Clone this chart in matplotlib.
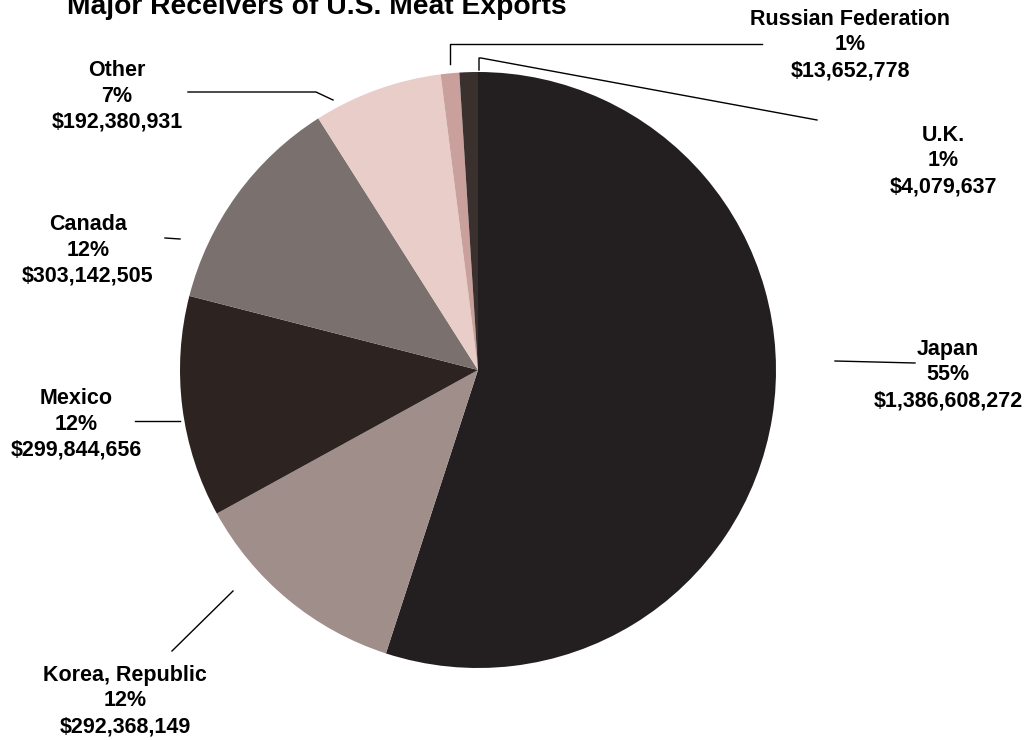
import matplotlib.pyplot as plt

plt.rcParams['font.family'] = ['Liberation Sans', 'DejaVu Sans']

# 数据：
countries = ['Japan', 'Korea, Republic', 'Mexico', 'Canada', 'Other',
             'Russian Federation', 'U.K.']
values = [1386608272, 292368149, 299844656, 303142505, 192380931,
          13652778, 4079637]
shares = [55, 12, 12, 12, 7, 1, 1]  # 图中显示的百分比（扇区按此绘制）
colors = ['#231f20', '#a08e8b', '#2d2422', '#7a706e', '#e8cdc8',
          '#c9a09b', '#3a302e']

# 标签位置（像素坐标，y 向下）：
label_pos = [(948, 375), (125, 701), (76, 424), (88, 250), (117, 96),
             (850, 45), (943, 161)]
leaders = [
    [(835, 361), (915, 363)],
    [(172, 651), (233, 591)],
    [(135, 421), (180, 421)],
    [(165, 238), (180, 239)],
    [(188, 92), (316, 92), (333, 100)],
    [(450, 64), (450, 44), (762, 44)],
    [(479, 70), (479, 58), (481, 58), (817, 120)],
]

W, H = 1030, 740
fig = plt.figure(figsize=(W / 100, H / 100), dpi=100)
ax = fig.add_axes([0, 0, 1, 1])

ax.pie(shares, colors=colors, startangle=90, counterclock=False,
       center=(478, H - 370), radius=298, frame=True,
       wedgeprops=dict(linewidth=0))
ax.set_xlim(0, W)
ax.set_ylim(0, H)
ax.set_aspect('equal')
ax.axis('off')

# 标签和引线：
for name, p, v, (x, y), pts in zip(countries, shares, values, label_pos, leaders):
    ax.text(x, H - y, '%s\n%d%%\n$%s' % (name, p, format(v, ',')),
            ha='center', va='center', fontsize=15.5, fontweight='bold',
            linespacing=1.3)
    ax.plot([q[0] for q in pts], [H - q[1] for q in pts], color='black', lw=1)

ax.text(67, H - 14, 'Major Receivers of U.S. Meat Exports', ha='left',
        va='baseline', fontsize=20.3, fontweight='bold')

fig.savefig('out.png', dpi=100)
